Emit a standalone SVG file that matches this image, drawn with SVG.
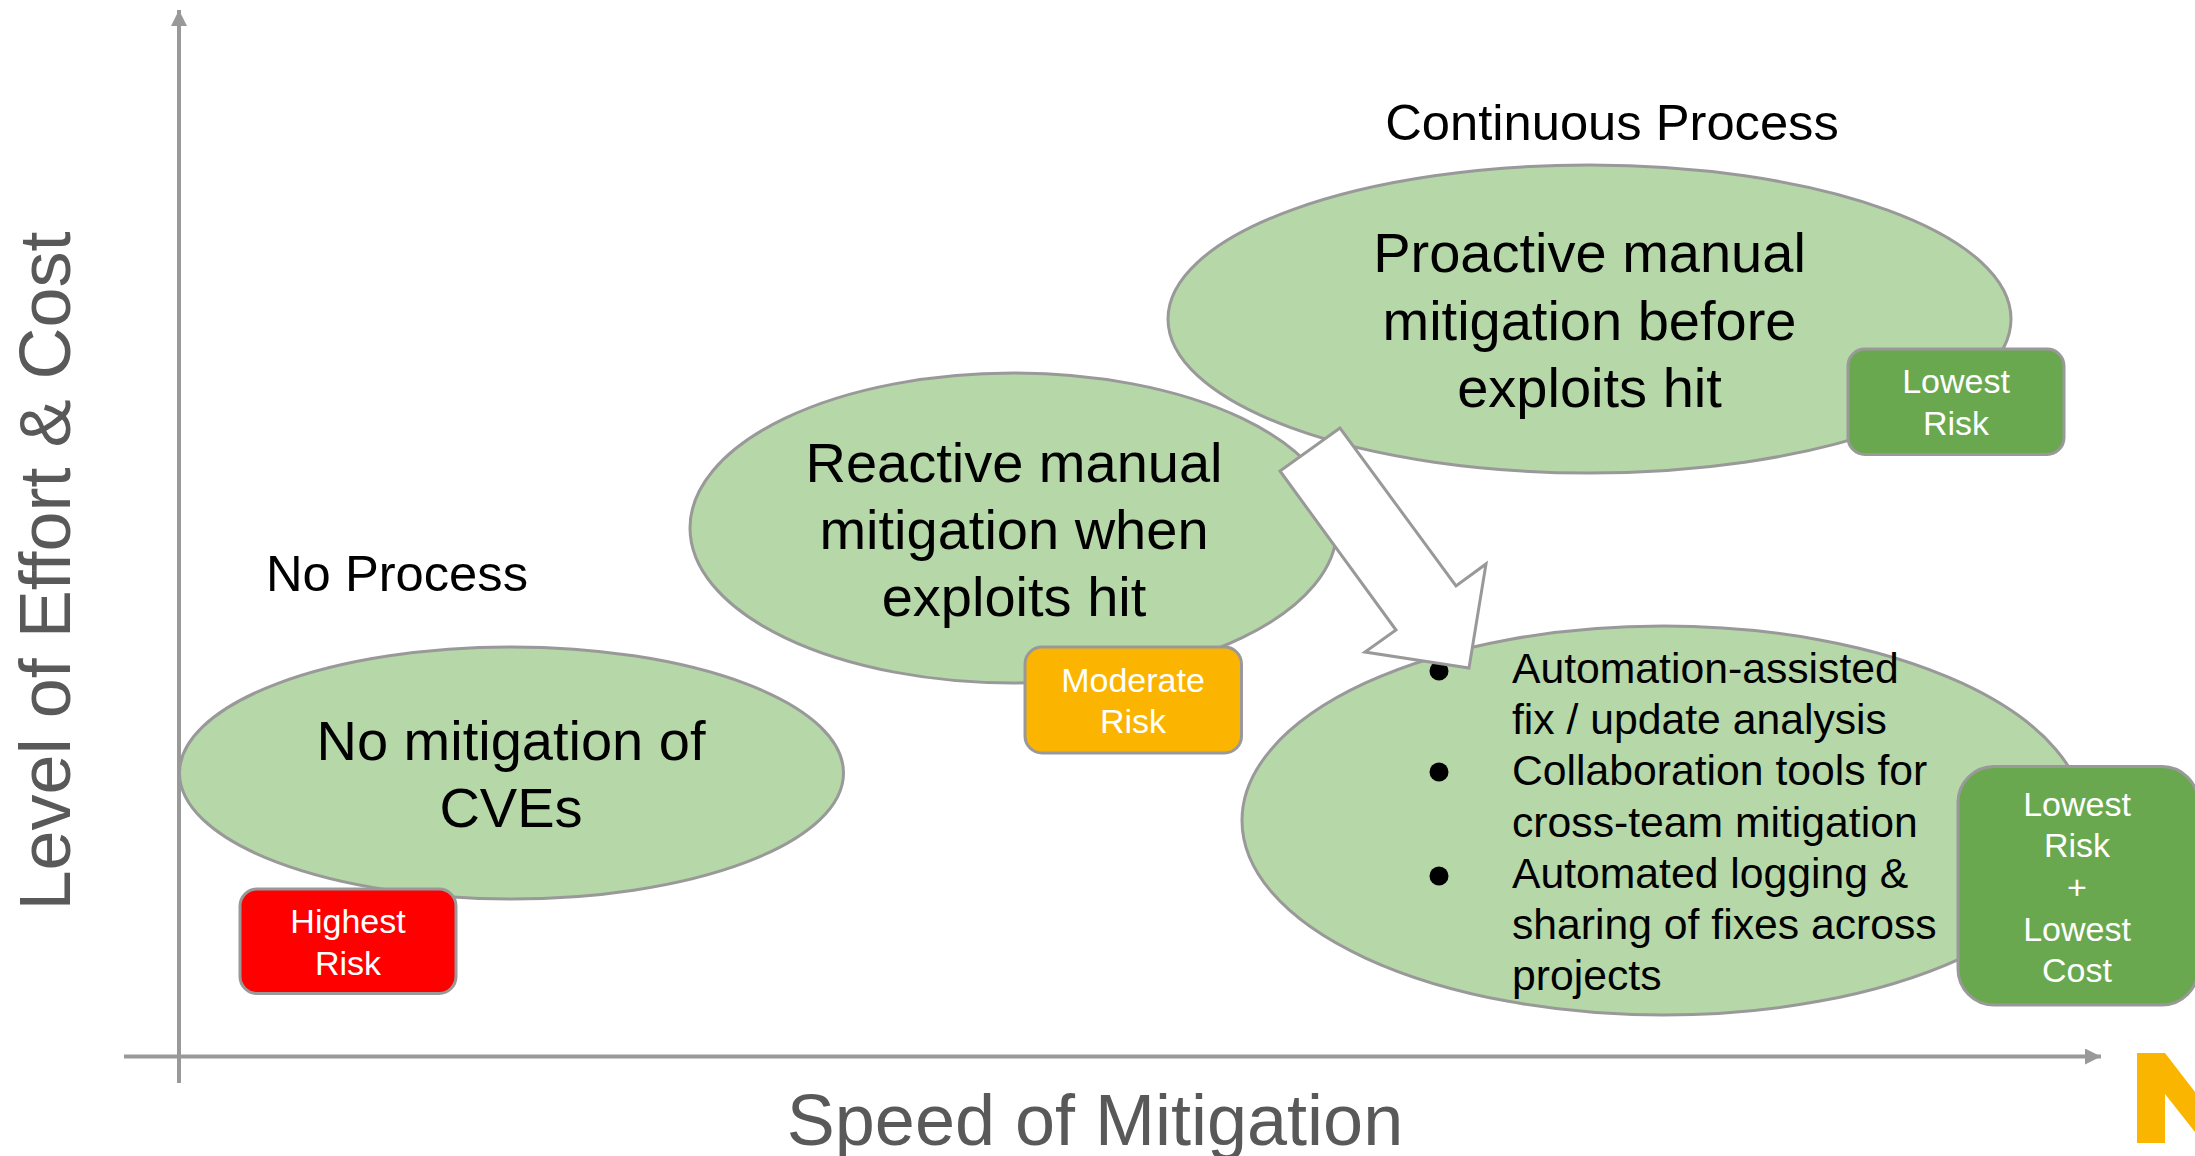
<svg xmlns="http://www.w3.org/2000/svg" width="2195" height="1156" viewBox="0 0 2195 1156">
<style>
text{font-family:"Liberation Sans",Arial,sans-serif}
.e{fill:#b6d7a8;stroke:#999;stroke-width:3}
.b{stroke:#999;stroke-width:3}
.t{font-size:56px;fill:#000;text-anchor:middle}
.p{font-size:50.700px;fill:#000;text-anchor:middle}
.w{font-size:34px;fill:#fff;text-anchor:middle}
.l{font-size:42.700px;fill:#000}
.a{font-size:72px;fill:#595959;text-anchor:middle}
.ax{stroke:#999;stroke-width:4;fill:none}
</style>
<defs>
<marker id="h" markerUnits="userSpaceOnUse" markerWidth="18" markerHeight="16" refX="16" refY="8" orient="auto"><path d="M0 0L16 8L0 16Z" fill="#999"/></marker>
</defs>
<rect width="2195" height="1156" fill="#fff"/>
<g id="connectors">
<line class="ax" x1="179" y1="1083" x2="179" y2="10" marker-end="url(#h)"/>
<line class="ax" x1="124" y1="1056.500" x2="2101" y2="1056.500" marker-end="url(#h)"/>
</g>
<g id="node-no-mitigation">
<ellipse class="e" cx="511.500" cy="773" rx="332" ry="126"/>
<text class="t"><tspan x="511" y="760">No mitigation of</tspan><tspan x="511" y="827">CVEs</tspan></text>
</g>
<g id="node-highest-risk">
<rect class="b" x="240" y="889" width="216" height="104.500" rx="17" fill="#f00"/>
<text class="w"><tspan x="348" y="933">Highest</tspan><tspan x="348" y="975">Risk</tspan></text>
</g>
<g id="node-reactive">
<ellipse class="e" cx="1013.500" cy="528" rx="323.500" ry="155"/>
<text class="t"><tspan x="1014" y="482">Reactive manual</tspan><tspan x="1014" y="549">mitigation when</tspan><tspan x="1014" y="616">exploits hit</tspan></text>
</g>
<g id="node-moderate-risk">
<rect class="b" x="1025" y="647" width="216.500" height="106" rx="17" fill="#fbb500"/>
<text class="w"><tspan x="1133" y="692">Moderate</tspan><tspan x="1133" y="733">Risk</tspan></text>
</g>
<g id="node-proactive">
<ellipse class="e" cx="1589.500" cy="319" rx="421.500" ry="154"/>
<text class="t"><tspan x="1589.500" y="272">Proactive manual</tspan><tspan x="1589.500" y="340">mitigation before</tspan><tspan x="1589.500" y="407">exploits hit</tspan></text>
</g>
<g id="node-lowest-risk">
<rect class="b" x="1848" y="349" width="216" height="105.500" rx="17" fill="#6aa84f"/>
<text class="w"><tspan x="1956" y="393">Lowest</tspan><tspan x="1956" y="435">Risk</tspan></text>
</g>
<g id="node-automation">
<ellipse class="e" cx="1663.500" cy="820.500" rx="421.500" ry="194.500"/>
<text class="l"><tspan x="1512" y="683">Automation-assisted</tspan><tspan x="1512" y="734">fix / update analysis</tspan><tspan x="1512" y="785">Collaboration tools for</tspan><tspan x="1512" y="837">cross-team mitigation</tspan><tspan x="1512" y="888">Automated logging &amp;</tspan><tspan x="1512" y="939">sharing of fixes across</tspan><tspan x="1512" y="990">projects</tspan></text>
<circle cx="1439" cy="671" r="9.500"/><circle cx="1439" cy="772" r="9.500"/><circle cx="1439" cy="876" r="9.500"/>
</g>
<g id="node-lowest-risk-cost">
<rect class="b" x="1958" y="766.500" width="240" height="238.500" rx="36" fill="#6aa84f"/>
<text class="w"><tspan x="2077" y="816">Lowest</tspan><tspan x="2077" y="857">Risk</tspan><tspan x="2077" y="899">+</tspan><tspan x="2077" y="941">Lowest</tspan><tspan x="2077" y="982">Cost</tspan></text>
</g>
<g id="transition-arrow">
<path d="M1340 428L1280 471L1396 630L1365 652L1469 668L1486 564L1456 586Z" fill="#fff" stroke="#999" stroke-width="3"/>
</g>
<text class="p" x="397" y="591">No Process</text>
<text class="p" x="1612" y="140">Continuous Process</text>
<text class="a" x="1095" y="1145">Speed of Mitigation</text>
<text class="a" transform="translate(70 571) rotate(-90)">Level of Effort &amp; Cost</text>
<path d="M2137 1053H2165L2195 1092V1132L2165 1094V1143H2137Z" fill="#f9b500"/>
</svg>
